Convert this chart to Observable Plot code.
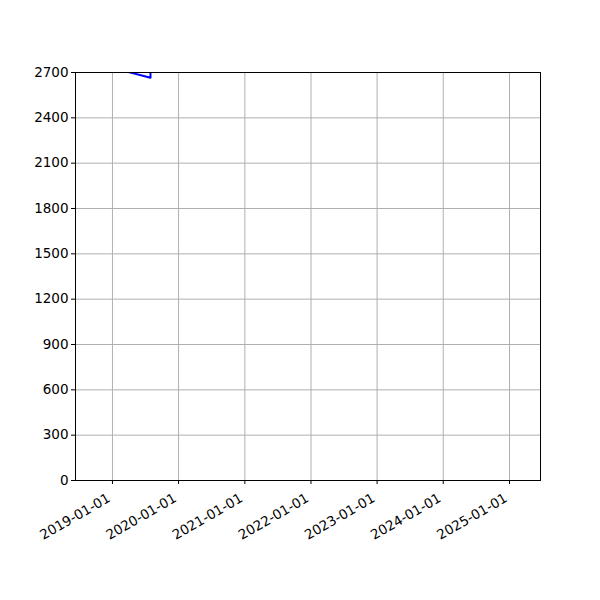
<!DOCTYPE html>
<html>
<head>
<meta charset="utf-8">
<script src="https://cdn.jsdelivr.net/npm/d3@7"></script>
<script src="https://cdn.jsdelivr.net/npm/@observablehq/plot@0.6"></script>
<style>
body { margin: 0; background: #fff; }
svg { font-family: "DejaVu Sans", sans-serif; }
</style>
</head>
<body>
<div id="chart"></div>
<script>
const dates = ["2018-11-01", "2019-07-30", "2019-08-01", "2020-06-01", "2021-06-01", "2022-06-01", "2023-06-01", "2024-06-01", "2025-03-01"];
const values = [2750, 2665, 3600, 4200, 5100, 5800, 6400, 7000, 7600];
const yTicks = [0, 300, 600, 900, 1200, 1500, 1800, 2100, 2400, 2700];
const xTicks = ["2019-01-01", "2020-01-01", "2021-01-01", "2022-01-01", "2023-01-01", "2024-01-01", "2025-01-01"];

const data = dates.map((d, i) => ({date: new Date(d + "T00:00:00Z"), value: values[i]}));
const xt = xTicks.map(d => new Date(d + "T00:00:00Z"));
const fmt = d3.utcFormat("%Y-%m-%d");

const chart = Plot.plot({
  width: 600,
  height: 600,
  marginLeft: 75,
  marginRight: 60,
  marginTop: 72,
  marginBottom: 120,
  style: {fontSize: "13.5px", fontFamily: "DejaVu Sans, sans-serif", color: "#000", background: "#fff"},
  x: {type: "utc", domain: [new Date("2018-06-11T00:00:00Z"), new Date("2025-06-21T00:00:00Z")]},
  y: {domain: [0, 2700]},
  marks: [
    Plot.gridX(xt, {stroke: "#b0b0b0", strokeOpacity: 1, strokeWidth: 1}),
    Plot.gridY(yTicks, {stroke: "#b0b0b0", strokeOpacity: 1, strokeWidth: 1}),
    Plot.line(data, {x: "date", y: "value", stroke: "#0000ff", strokeWidth: 2, clip: true}),
    Plot.frame({stroke: "#000", strokeWidth: 1}),
    Plot.axisY(yTicks, {tickSize: 4, tickPadding: 3, tickFormat: d => String(d), label: null, fontSize: 13.5}),
    Plot.axisX(xt, {tickSize: 4, tickFormat: () => "", label: null}),
    Plot.text(xt, {x: d => d, text: d => fmt(d), frameAnchor: "bottom", rotate: -30, textAnchor: "end", lineAnchor: "top", dx: -6, dy: 12, fontSize: 13.5, fill: "#000"})
  ]
});
document.getElementById("chart").appendChild(chart);
</script>
</body>
</html>
